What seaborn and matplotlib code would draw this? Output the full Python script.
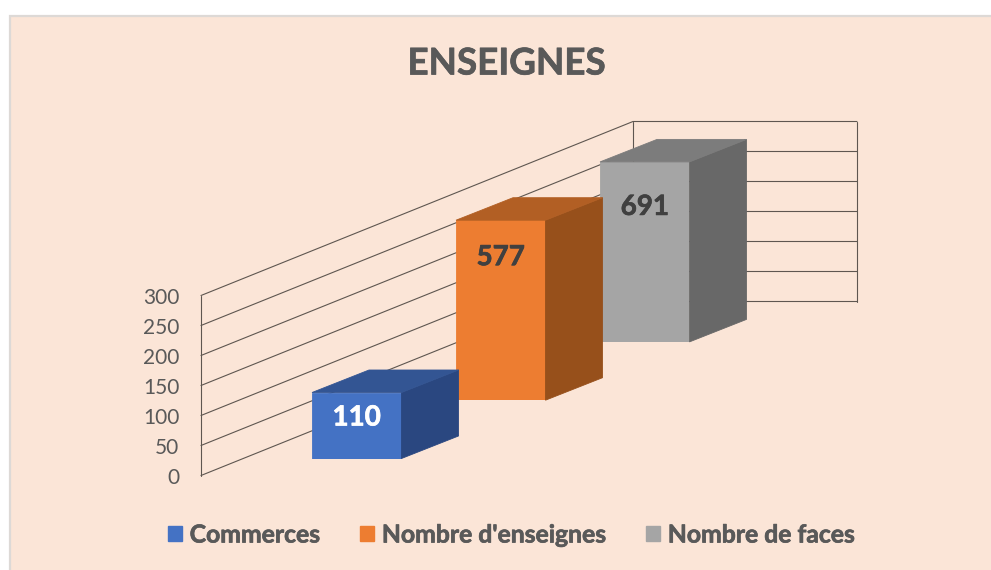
# -*- coding: utf-8 -*-
import seaborn as sns
import pandas as pd
import matplotlib.pyplot as plt
import matplotlib.patheffects as pe
from matplotlib.patches import Patch, Polygon, Rectangle

## DATA ##
categories = ['Commerces', "Nombre d'enseignes", 'Nombre de faces']
values = [110, 577, 691]
y_ticks = [0, 50, 100, 150, 200, 250, 300]

front_colors = ['#4472C4', '#ED7D31', '#A5A5A5']
top_colors = ['#335593', '#B25F24', '#7C7C7C']
side_colors = ['#2A4780', '#97501B', '#686868']
label_colors = ['white', '#404040', '#404040']
label_drop = [25, 37, 45]

W, H = 991, 570
TEXT = '#595959'
PANEL = '#FBE5D7'
LINE = '#5E5650'

sns.set_theme(style='white')
plt.rcParams['font.family'] = ['Lato', 'DejaVu Sans']


def px_axes(left, right, top, bottom, zorder):
    ax = fig.add_axes([left / W, 1 - bottom / H, (right - left) / W, (bottom - top) / H], zorder=zorder)
    ax.patch.set_alpha(0)
    return ax


def thicken(text, color):
    text.set_path_effects([pe.withStroke(linewidth=0.5, foreground=color)])


fig = plt.figure(figsize=(W / 100, H / 100), dpi=100, facecolor='white')
fig.patches.append(Rectangle((9.5 / W, -0.01), 1.01, 1.01 - 15.5 / H, transform=fig.transFigure,
                             facecolor=PANEL, edgecolor='#DDD9D6', linewidth=1.6, zorder=-1))

title = fig.text(506.5 / W, 1 - 64 / H, 'ENSEIGNES', ha='center', va='center', fontsize=26.5,
                 fontweight='bold', color=TEXT)
thicken(title, TEXT)

## WALLS ##
wall = px_axes(201, 857, 295.5, 475.5, 1)
wall.set_xlim(201, 857)
wall.set_ylim(0, 300)
depth = 174 / 180 * 300
for t in y_ticks:
    wall.plot([201, 633, 857], [t, t + depth, t + depth], color=LINE, lw=0.8, clip_on=False)
for x, shift in [(201, 0), (633, depth), (857, depth)]:
    wall.plot([x, x], [shift, 300 + shift], color=LINE, lw=0.8, clip_on=False)
sns.despine(ax=wall, left=True, bottom=True)
wall.set_xticks([])
wall.set_yticks(y_ticks)
wall.set_yticklabels([str(t) for t in y_ticks])
wall.tick_params(axis='y', length=0, pad=15.5, labelsize=15, labelcolor=TEXT)

## BARS ##
bar_w = 89.5
off_x, off_y = 57, 22.5
for i, (cat, val) in enumerate(zip(categories, values)):
    left = 312 + 144 * i
    bottom = 458.5 - 58.3 * i
    ax = px_axes(left, left + bar_w, bottom - 180, bottom, 10 - i)
    df = pd.DataFrame({'cat': [cat], 'val': [val]})
    sns.barplot(data=df, x='cat', y='val', color=front_colors[i], saturation=1, width=1, ax=ax)
    ax.set_xlim(-0.5, 0.5)
    ax.set_ylim(0, 300)
    ax.axis('off')

    bar = ax.patches[0]
    bar.set_edgecolor(front_colors[i])
    bar.set_linewidth(0.6)
    x0 = bar.get_x()
    x1 = x0 + bar.get_width()
    h = min(bar.get_height(), ax.get_ylim()[1])
    dx = off_x / bar_w
    dy = off_y / 180 * 300
    ax.add_patch(Polygon([(x1, 0), (x1 + dx, dy), (x1 + dx, h + dy), (x1, h)], facecolor=side_colors[i],
                         edgecolor=side_colors[i], lw=0.6, clip_on=False))
    ax.add_patch(Polygon([(x0, h), (x1, h), (x1 + dx, h + dy), (x0 + dx, h + dy)], facecolor=top_colors[i],
                         edgecolor=top_colors[i], lw=0.6, clip_on=False))
    lab = ax.annotate(str(val), (0, h), xytext=(0, -label_drop[i] * 0.72), textcoords='offset points',
                      ha='center', va='center', fontsize=20, fontweight='bold', color=label_colors[i])
    thicken(lab, label_colors[i])

## LEGEND ##
handles = [Patch(facecolor=c, edgecolor=c, label=n) for c, n in zip(front_colors, categories)]
leg = fig.legend(handles=handles, loc='center', bbox_to_anchor=(511.5 / W, 1 - 535 / H), ncol=3, frameon=False,
                 prop={'size': 17.8, 'weight': 'bold'}, labelcolor=TEXT, handlelength=0.58, handleheight=0.58,
                 handletextpad=0.3, columnspacing=1.62)
for txt in leg.get_texts():
    thicken(txt, TEXT)

fig.savefig('out.png', dpi=100, facecolor=fig.get_facecolor())
